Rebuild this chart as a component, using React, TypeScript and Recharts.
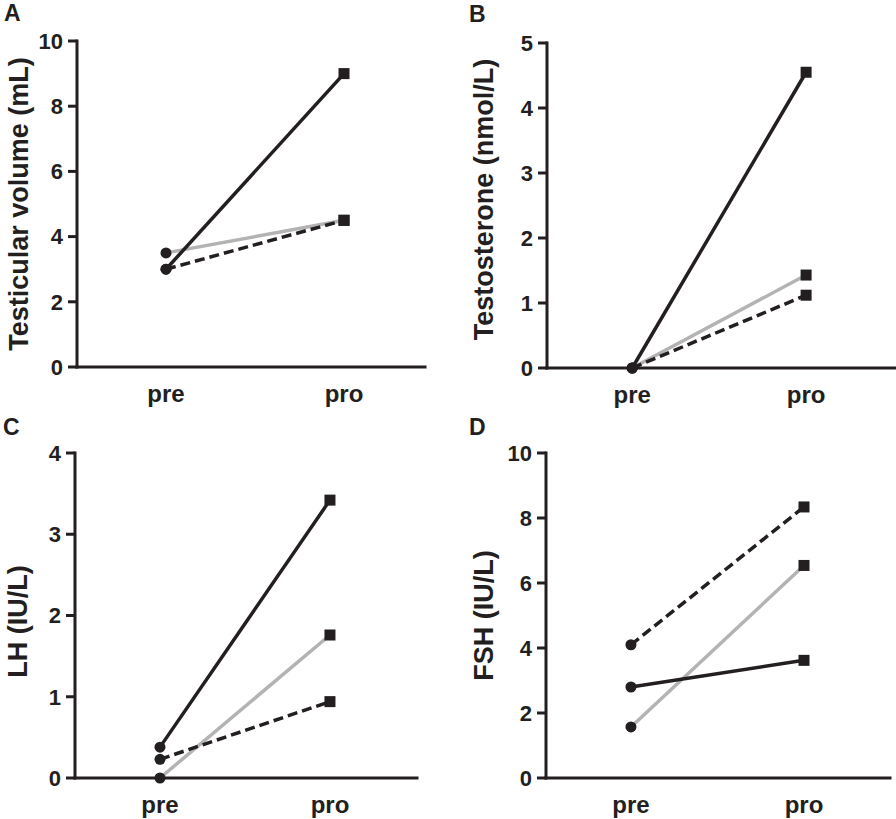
import { LineChart, Line, XAxis, YAxis } from 'recharts';

const stages = ['pre', 'pro'];

// testicular volume (mL)
const volSolid = [3.0, 9.0];
const volGray = [3.5, 4.5];
const volDashed = [3.0, 4.5];
const volTicks = [0, 2, 4, 6, 8, 10];

// testosterone (nmol/L)
const testoSolid = [0, 4.55];
const testoGray = [0, 1.43];
const testoDashed = [0, 1.12];
const testoTicks = [0, 1, 2, 3, 4, 5];

// LH (IU/L)
const lhSolid = [0.38, 3.42];
const lhGray = [0, 1.76];
const lhDashed = [0.23, 0.94];
const lhTicks = [0, 1, 2, 3, 4];

// FSH (IU/L)
const fshSolid = [2.8, 3.62];
const fshGray = [1.57, 6.54];
const fshDashed = [4.1, 8.34];
const fshTicks = [0, 2, 4, 6, 8, 10];

const INK = '#231f20';
const GREY = '#b3b3b3';
const FONT = '"Liberation Sans", Arial, sans-serif';

const Marker = (props: any) => {
  const { cx, cy, index, key } = props;
  if (cx == null || cy == null) return <g key={key} />;
  if (index === 0) return <circle key={key} cx={cx} cy={cy} r={5.5} fill={INK} />;
  return <rect key={key} x={cx - 5.5} y={cy - 5.5} width={11} height={11} fill={INK} />;
};

interface PanelProps {
  letter: string;
  title: string;
  left: number;
  top: number;
  height: number;
  yAxisW: number;
  mTop: number;
  mRight: number;
  xAxisH: number;
  xDomain: [number, number];
  ticks: number[];
  solid: number[];
  gray: number[];
  dashed: number[];
  labelX: number;
  labelDy: number;
  letterX: number;
  letterY: number;
}

function Panel(p: PanelProps) {
  const data = stages.map((s, i) => ({ x: i, solid: p.solid[i], gray: p.gray[i], dashed: p.dashed[i] }));
  const plotMid = p.mTop + (p.height - p.mTop - p.xAxisH) / 2 + p.labelDy;
  const yMax = p.ticks[p.ticks.length - 1];
  const axisLine = { stroke: INK, strokeWidth: 3, strokeLinecap: 'square' as const };
  return (
    <div style={{ position: 'absolute', left: p.left, top: p.top, width: 448, height: p.height }}>
      <div
        style={{
          position: 'absolute', left: p.letterX, top: p.letterY, fontFamily: FONT,
          fontWeight: 700, fontSize: 23, lineHeight: '26px', color: INK,
        }}
      >
        {p.letter}
      </div>
      <LineChart
        width={448}
        height={p.height}
        data={data}
        margin={{ top: p.mTop, right: p.mRight, bottom: 0, left: 0 }}
      >
        <XAxis
          dataKey="x"
          type="number"
          domain={p.xDomain}
          ticks={[0, 1]}
          tickFormatter={(v) => stages[v] ?? ''}
          height={p.xAxisH}
          axisLine={axisLine}
          tickLine={false}
          tickSize={0}
          tickMargin={18}
          tick={{ fill: INK, fontSize: 24, fontWeight: 700, fontFamily: FONT }}
        />
        <YAxis
          type="number"
          domain={[0, yMax]}
          ticks={p.ticks}
          width={p.yAxisW}
          axisLine={axisLine}
          tickLine={{ stroke: INK, strokeWidth: 3 }}
          tickSize={9}
          tickMargin={5}
          tick={{ fill: INK, fontSize: 22, fontWeight: 700, fontFamily: FONT }}
          label={() => (
            <text
              x={p.labelX}
              y={plotMid}
              transform={`rotate(-90 ${p.labelX} ${plotMid})`}
              textAnchor="middle"
              dominantBaseline="central"
              fill={INK}
              fontSize={27}
              fontWeight={700}
              fontFamily={FONT}
            >
              {p.title}
            </text>
          )}
        />
        <Line dataKey="gray" stroke={GREY} strokeWidth={3.5} dot={Marker} activeDot={false} isAnimationActive={false} />
        <Line dataKey="dashed" stroke={INK} strokeWidth={3.5} strokeDasharray="10 5" dot={Marker} activeDot={false} isAnimationActive={false} />
        <Line dataKey="solid" stroke={INK} strokeWidth={3.5} dot={Marker} activeDot={false} isAnimationActive={false} />
      </LineChart>
    </div>
  );
}

export default function App() {
  return (
    <div style={{ position: 'absolute', left: 0, top: 0, width: 896, height: 819, background: '#fff', overflow: 'hidden' }}>
      <Panel
        letter="A" title="Testicular volume (mL)"
        left={0} top={0} height={410}
        yAxisW={77} mTop={41} mRight={23} xAxisH={43}
        xDomain={[-0.5, 1.455]} ticks={volTicks}
        solid={volSolid} gray={volGray} dashed={volDashed}
        labelX={19} labelDy={0} letterX={4} letterY={0}
      />
      <Panel
        letter="B" title="Testosterone (nmol/L)"
        left={448} top={0} height={410}
        yAxisW={99} mTop={43} mRight={0} xAxisH={42}
        xDomain={[-0.49, 1.517]} ticks={testoTicks}
        solid={testoSolid} gray={testoGray} dashed={testoDashed}
        labelX={36} labelDy={-6} letterX={21} letterY={1}
      />
      <Panel
        letter="C" title="LH (IU/L)"
        left={0} top={410} height={409}
        yAxisW={75} mTop={43} mRight={31} xAxisH={41}
        xDomain={[-0.5, 1.512]} ticks={lhTicks}
        solid={lhSolid} gray={lhGray} dashed={lhDashed}
        labelX={18} labelDy={6} letterX={3} letterY={4}
      />
      <Panel
        letter="D" title="FSH (IU/L)"
        left={448} top={410} height={409}
        yAxisW={98} mTop={43} mRight={6} xAxisH={41}
        xDomain={[-0.491, 1.497]} ticks={fshTicks}
        solid={fshSolid} gray={fshGray} dashed={fshDashed}
        labelX={36} labelDy={0} letterX={21} letterY={4}
      />
    </div>
  );
}
